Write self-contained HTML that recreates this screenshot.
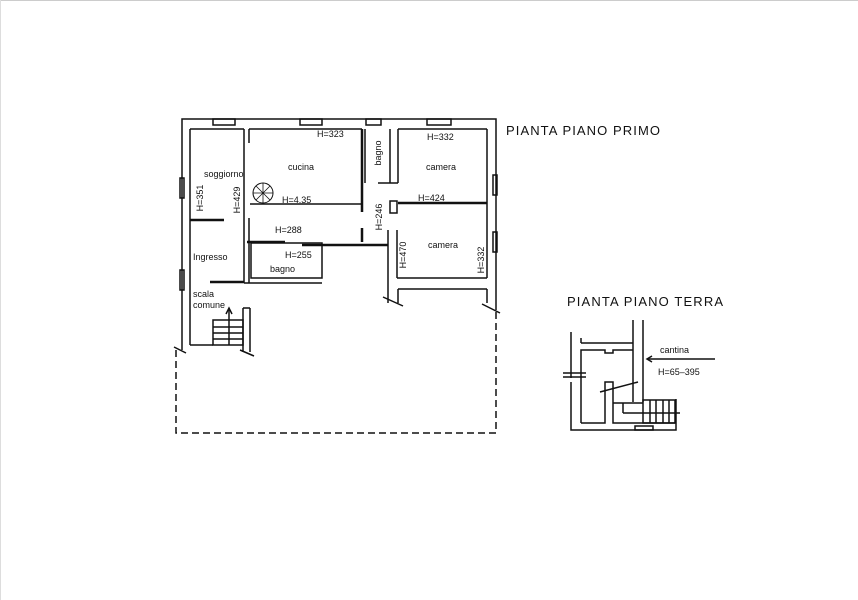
<!DOCTYPE html>
<html><head><meta charset="utf-8"><style>
html,body{margin:0;padding:0;background:#fff;width:858px;height:600px;overflow:hidden}
text{font-family:"Liberation Sans",sans-serif;fill:#111}
</style></head><body>
<svg width="858" height="600" viewBox="0 0 858 600" xmlns="http://www.w3.org/2000/svg">
<rect width="858" height="600" fill="#fff"/>
<line x1="0" y1="0.5" x2="858" y2="0.5" stroke="#ccc"/>
<line x1="0.5" y1="0" x2="0.5" y2="600" stroke="#ddd"/>
<g stroke="#111" stroke-width="1.5" fill="none">
<polyline points="182,350 182,119 496,119 496,310"/>
<line x1="190" y1="129" x2="190" y2="345"/>
<line x1="190" y1="345" x2="213" y2="345"/>
<line x1="190" y1="129" x2="244" y2="129"/>
<line x1="244" y1="129" x2="244" y2="283"/>
<line x1="249" y1="129" x2="249" y2="143"/>
<line x1="249" y1="218" x2="249" y2="283"/>
<line x1="249" y1="129" x2="362" y2="129"/>
<line x1="362" y1="129" x2="362" y2="212" stroke-width="2.5"/>
<line x1="362" y1="228" x2="362" y2="242" stroke-width="2.5"/>
<line x1="250" y1="204" x2="362" y2="204"/>
<line x1="365" y1="129" x2="365" y2="183"/>
<line x1="378" y1="183" x2="398" y2="183"/>
<line x1="390" y1="129" x2="390" y2="183"/>
<line x1="398" y1="129" x2="398" y2="183"/>
<line x1="398" y1="129" x2="487" y2="129"/>
<line x1="487" y1="129" x2="487" y2="278"/>
<line x1="398" y1="203" x2="487" y2="203" stroke-width="2.5"/>
<rect x="390" y="201" width="7" height="12"/>
<line x1="388" y1="230" x2="388" y2="303"/>
<line x1="397" y1="230" x2="397" y2="278"/>
<line x1="397" y1="278" x2="487" y2="278"/>
<line x1="398" y1="289" x2="487" y2="289"/>
<line x1="398" y1="289" x2="398" y2="303"/>
<line x1="487" y1="289" x2="487" y2="303"/>
<line x1="302" y1="245" x2="388" y2="245" stroke-width="2.5"/>
<line x1="247" y1="242" x2="285" y2="242" stroke-width="2.5"/>
<rect x="251" y="243" width="71" height="35"/>
<line x1="244" y1="283" x2="322" y2="283"/>
<line x1="210" y1="282" x2="244" y2="282" stroke-width="2.5"/>
<line x1="190" y1="220" x2="224" y2="220" stroke-width="2.5"/>
<rect x="213" y="119" width="22" height="6"/>
<rect x="300" y="119" width="22" height="6"/>
<rect x="366" y="119" width="15" height="6"/>
<rect x="427" y="119" width="24" height="6"/>
<rect x="493" y="175" width="4" height="20"/>
<rect x="493" y="232" width="4" height="20"/>
<rect x="180" y="178" width="4" height="20"/>
<rect x="180" y="270" width="4" height="20"/>
<rect x="213" y="320" width="30" height="25"/>
<line x1="213" y1="327" x2="243" y2="327"/>
<line x1="213" y1="333" x2="243" y2="333"/>
<line x1="213" y1="339" x2="243" y2="339"/>
<line x1="229" y1="310" x2="229" y2="345"/>
<polyline points="226,314 229,308 232,314"/>
<line x1="243" y1="308" x2="243" y2="352"/>
<line x1="250" y1="308" x2="250" y2="352"/>
<line x1="243" y1="308" x2="250" y2="308"/>
<circle cx="263" cy="193" r="10" stroke-width="1"/>
<g stroke-width="0.8"><line x1="253" y1="193" x2="273" y2="193"/><line x1="263" y1="183" x2="263" y2="203"/><line x1="256" y1="186" x2="270" y2="200"/><line x1="270" y1="186" x2="256" y2="200"/></g>
<line x1="174" y1="347" x2="186" y2="353"/>
<line x1="240" y1="350" x2="254" y2="356"/>
<line x1="383" y1="297" x2="403" y2="306"/>
<line x1="482" y1="304" x2="500" y2="313"/>
<polyline points="176,350 176,433 496,433 496,312" stroke-dasharray="7,4"/>
<polyline points="571,332 571,378"/>
<polyline points="571,382 571,430 676,430 676,399"/>
<line x1="633" y1="320" x2="633" y2="402"/>
<line x1="643" y1="320" x2="643" y2="402"/>
<line x1="581" y1="343" x2="633" y2="343"/>
<line x1="581" y1="338" x2="581" y2="343"/>
<polyline points="581,423 581,350 605,350 605,353 613,353 613,350 633,350"/>
<polyline points="581,423 605,423 605,382 613,382 613,423 675,423"/>
<rect x="643" y="400" width="32" height="23"/>
<line x1="650" y1="400" x2="650" y2="423"/><line x1="656" y1="400" x2="656" y2="423"/><line x1="663" y1="400" x2="663" y2="423"/><line x1="669" y1="400" x2="669" y2="423"/>
<line x1="623" y1="403" x2="623" y2="413"/>
<line x1="623" y1="413" x2="680" y2="413"/>
<line x1="613" y1="403" x2="643" y2="403"/>
<line x1="600" y1="392" x2="638" y2="382"/>
<line x1="563" y1="373" x2="586" y2="373"/>
<line x1="563" y1="377" x2="586" y2="377"/>
<rect x="635" y="426" width="18" height="4"/>
<line x1="715" y1="359" x2="648" y2="359"/>
<polyline points="652,356 647,359 652,362"/>
</g>
<g font-size="9">
<text x="317" y="137">H=323</text>
<text x="288" y="170">cucina</text>
<text x="204" y="177">soggiorno</text>
<text x="282" y="203">H=4.35</text>
<text x="275" y="233">H=288</text>
<text x="193" y="260">Ingresso</text>
<text x="285" y="258">H=255</text>
<text x="270" y="272">bagno</text>
<text x="193" y="297">scala</text>
<text x="193" y="308">comune</text>
<text x="427" y="140">H=332</text>
<text x="426" y="170">camera</text>
<text x="418" y="201">H=424</text>
<text x="428" y="248">camera</text>
<text transform="translate(203,198) rotate(-90)" text-anchor="middle">H=351</text>
<text transform="translate(240,200) rotate(-90)" text-anchor="middle">H=429</text>
<text transform="translate(382,217) rotate(-90)" text-anchor="middle">H=246</text>
<text transform="translate(406,255) rotate(-90)" text-anchor="middle">H=470</text>
<text transform="translate(484,260) rotate(-90)" text-anchor="middle">H=332</text>
<text transform="translate(381,153) rotate(-90)" text-anchor="middle">bagno</text>
<text x="660" y="353">cantina</text>
<text x="658" y="375">H=65–395</text>
</g>
<text x="506" y="135" font-size="13" textLength="154">PIANTA PIANO PRIMO</text>
<text x="567" y="306" font-size="13" textLength="156">PIANTA PIANO TERRA</text>
</svg>
</body></html>
